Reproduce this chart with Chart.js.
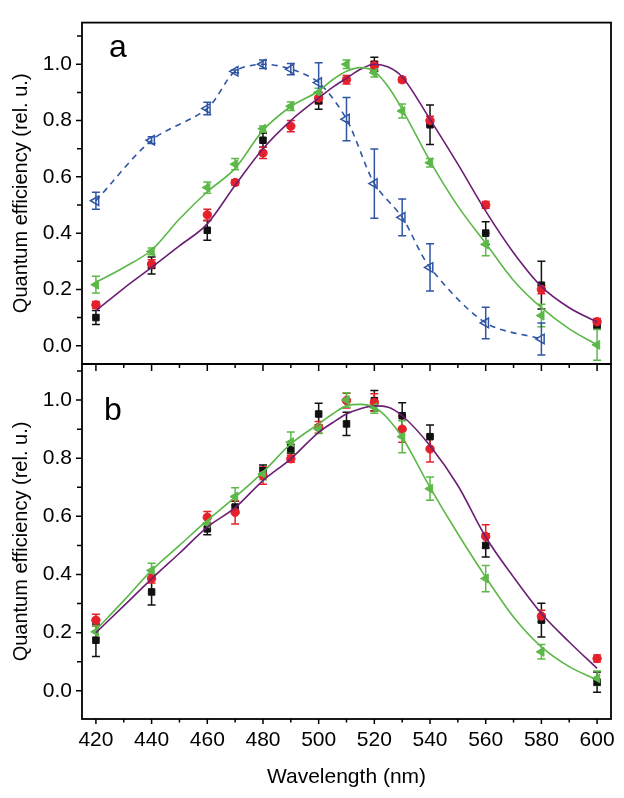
<!DOCTYPE html>
<html><head><meta charset="utf-8">
<script src="https://cdn.jsdelivr.net/npm/chart.js@4"></script>
<style>
html,body{margin:0;padding:0;background:#fff;}
#wrap{position:relative;width:624px;height:798px;background:#fff;}
canvas{position:absolute;left:0;top:0;}
</style></head><body>
<div id="wrap"><canvas id="ca" width="624" height="798"></canvas><canvas id="cb" width="624" height="798"></canvas></div>
<script>
// ---------- data ----------
const wavelengths = [420,440,460,470,480,490,500,510,520,530,540,560,580,600];

// panel a
const aBlack    = [0.100,0.285,0.410,null,0.730,null,0.870,null,1.000,null,0.785,0.400,0.215,0.075];
const aBlackErr = [0.025,0.030,0.035,null,0.025,null,0.030,null,0.025,null,0.070,0.040,0.085,0.012];
const aRed      = [0.145,0.290,0.465,0.580,0.685,0.780,0.880,0.945,0.995,0.945,0.800,0.500,0.200,0.085];
const aRedErr   = [0.012,0.015,0.020,0.010,0.020,0.020,0.020,0.015,0.015,0.010,0.015,0.012,0.015,0.012];
const aGreen    = [0.217,0.335,0.562,0.645,0.771,0.851,0.900,1.000,0.970,0.834,0.650,0.360,0.107,0.003];
const aGreenErr = [0.030,0.012,0.020,0.020,0.010,0.015,0.015,0.015,0.015,0.025,0.015,0.040,0.040,0.055];
const aBlue     = [0.515,0.730,0.843,0.975,1.000,0.983,0.935,0.805,0.576,0.456,0.278,0.081,0.024,null];
const aBlueErr  = [0.030,0.012,0.022,0.005,0.015,0.020,0.070,0.077,0.123,0.065,0.084,0.056,0.057,null];

const fitX       = [420,430,440,450,460,470,480,490,500,505,510,515,520,525,530,540,550,560,570,580,590,600];
const aPurpleFit = [0.124,0.204,0.278,0.355,0.433,0.570,0.700,0.800,0.880,0.918,0.950,0.982,1.000,0.990,0.955,0.804,0.645,0.478,0.330,0.210,0.135,0.084];
const aGreenFit  = [0.225,0.278,0.340,0.450,0.547,0.630,0.765,0.850,0.905,0.945,0.975,0.988,0.975,0.920,0.840,0.656,0.496,0.364,0.232,0.135,0.060,0.003];

// panel b
const bBlack    = [0.174,0.340,0.557,0.632,0.757,0.832,0.952,0.918,0.998,0.946,0.874,0.500,0.243,0.030];
const bBlackErr = [0.056,0.045,0.020,0.020,0.020,0.015,0.037,0.040,0.035,0.045,0.040,0.040,0.058,0.035];
const bRed      = [0.243,0.386,0.597,0.614,0.740,0.798,0.906,0.998,0.992,0.900,0.832,0.531,0.257,0.111];
const bRedErr   = [0.020,0.015,0.020,0.040,0.030,0.012,0.020,0.025,0.030,0.045,0.045,0.040,0.020,0.012];
const bGreen    = [0.203,0.414,0.575,0.668,0.746,0.855,0.900,1.000,0.975,0.874,0.695,0.386,0.134,0.043];
const bGreenErr = [0.020,0.025,0.020,0.030,0.020,0.035,0.015,0.025,0.020,0.055,0.040,0.045,0.025,0.025];

const bPurpleFit = [0.200,0.292,0.385,0.473,0.563,0.630,0.723,0.798,0.889,0.922,0.952,0.970,0.980,0.975,0.946,0.843,0.706,0.529,0.391,0.266,0.168,0.077];
const bGreenFit  = [0.209,0.310,0.414,0.500,0.586,0.666,0.752,0.849,0.918,0.952,0.980,0.985,0.975,0.935,0.872,0.700,0.540,0.391,0.254,0.151,0.083,0.037];

// ticks
const yTickValues = [0,0.2,0.4,0.6,0.8,1.0];
const yTickLabels = ["0.0","0.2","0.4","0.6","0.8","1.0"];
const yMinorValues = [-0.1,0.1,0.3,0.5,0.7,0.9,1.1];
const xTickValues = [420,440,460,480,500,520,540,560,580,600];
const xTickLabels = ["420","440","460","480","500","520","540","560","580","600"];
const xMinorValues = [430,450,470,490,510,530,550,570,590];

// ---------- styling ----------
const FONT = "'Liberation Sans', Arial, Helvetica, sans-serif";
const C_BLACK = '#111111', C_RED = '#e5202a', C_GREEN = '#5cb848', C_PURPLE = '#6b1f74', C_BLUE = '#2f55a4';

function pts(xs, ys){ const o=[]; xs.forEach((x,i)=>{ if(ys[i]!==null && ys[i]!==undefined) o.push({x:x,y:ys[i]}); }); return o; }

function markerSet(ys, errs, style, color, fill, radius, order){
  return {
    data: pts(wavelengths, ys), errs: errs, errColor: color,
    showLine:false, pointStyle: style, pointRotation: style==='triangle'?-90:0,
    pointRadius: radius, pointBorderColor: color, pointBackgroundColor: fill,
    pointBorderWidth: fill==='rgba(0,0,0,0)'?1.5:1, order: order
  };
}
function lineSet(xs, ys, color, dash, order, tension){
  const d = {
    data: pts(xs, ys), showLine:true, borderColor: color, borderWidth:1.6,
    borderDash: dash||[], pointRadius:0, order: order, fill:false
  };
  if (tension) { d.tension = tension; d.cubicInterpolationMode = 'default'; }
  else d.cubicInterpolationMode = 'monotone';
  return d;
}

const errPlugin = {
  id:'errbars',
  beforeDatasetsDraw(chart){
    const {ctx, scales:{x,y}, chartArea:a} = chart;
    ctx.save();
    ctx.beginPath(); ctx.rect(a.left,a.top,a.right-a.left,a.bottom-a.top); ctx.clip();
    ctx.lineWidth = 1.5;
    const sets = chart.data.datasets.filter(d=>d.errs).slice().sort((p,q)=>q.order-p.order);
    sets.forEach(ds=>{
      ctx.strokeStyle = ds.errColor;
      const e = ds.errs.filter(v=>v!==null);
      ds.data.forEach((p,i)=>{
        const px = x.getPixelForValue(p.x);
        const y1 = y.getPixelForValue(p.y + e[i]);
        const y2 = y.getPixelForValue(p.y - e[i]);
        ctx.beginPath();
        ctx.moveTo(px,y1); ctx.lineTo(px,y2);
        ctx.moveTo(px-4,y1); ctx.lineTo(px+4,y1);
        ctx.moveTo(px-4,y2); ctx.lineTo(px+4,y2);
        ctx.stroke();
      });
    });
    ctx.restore();
  }
};

function framePlugin(opts){
  return {
    id:'frame',
    afterDraw(chart){
      const {ctx, chartArea:a, scales:{x,y}} = chart;
      ctx.save();
      ctx.strokeStyle = '#000'; ctx.lineWidth = 1.8;
      ctx.strokeRect(a.left, a.top, a.right-a.left, a.bottom-a.top);
      ctx.lineWidth = 1.5;
      ctx.beginPath();
      yTickValues.forEach(v=>{ const py=y.getPixelForValue(v); ctx.moveTo(a.left,py); ctx.lineTo(a.left-6,py); });
      yMinorValues.forEach(v=>{ const py=y.getPixelForValue(v); if(py>a.top+1 && py<a.bottom-1){ ctx.moveTo(a.left,py); ctx.lineTo(a.left-5,py);} });
      if (opts.topTicks){
        xTickValues.forEach(v=>{ const px=x.getPixelForValue(v); ctx.moveTo(px,a.top); ctx.lineTo(px,a.top+7); });
        xMinorValues.forEach(v=>{ const px=x.getPixelForValue(v); ctx.moveTo(px,a.top); ctx.lineTo(px,a.top+4); });
      }
      if (opts.bottomTicks){
        xTickValues.forEach(v=>{ const px=x.getPixelForValue(v); ctx.moveTo(px,a.bottom); ctx.lineTo(px,a.bottom+5); });
        xMinorValues.forEach(v=>{ const px=x.getPixelForValue(v); ctx.moveTo(px,a.bottom); ctx.lineTo(px,a.bottom+3.5); });
      }
      ctx.stroke();
      ctx.fillStyle = '#000';
      ctx.font = '32px ' + FONT;
      ctx.textBaseline = 'alphabetic'; ctx.textAlign = 'left';
      ctx.fillText(opts.letter, opts.lx, opts.ly);
      ctx.restore();
    }
  };
}

function yScale(min, max){
  return {
    type:'linear', min:min, max:max,
    afterFit(s){ s.width = 82; },
    afterBuildTicks(s){ s.ticks = yTickValues.map(v=>({value:v})); },
    ticks:{ callback:(v,i)=>yTickLabels[i], font:{family:FONT,size:21}, color:'#000', padding:10 },
    grid:{ display:false, drawTicks:false }, border:{ display:false },
    title:{ display:true, text:'Quantum efficiency (rel. u.)', color:'#000', font:{family:FONT,size:20}, padding:{top:9,bottom:0} }
  };
}

Chart.defaults.color = '#000';

new Chart(document.getElementById('ca'), {
  type:'scatter',
  data:{ datasets:[
    markerSet(aBlack, aBlackErr, 'rect', C_BLACK, C_BLACK, 4.6, 6),
    markerSet(aRed, aRedErr, 'circle', C_RED, C_RED, 4.2, 5),
    markerSet(aGreen, aGreenErr, 'triangle', C_GREEN, C_GREEN, 5.2, 4),
    lineSet(wavelengths.slice(0,13), aBlue.slice(0,13), C_BLUE, [6,5], 3, 0.3),
    markerSet(aBlue, aBlueErr, 'triangle', C_BLUE, 'rgba(0,0,0,0)', 5.5, 2),
    lineSet(fitX, aPurpleFit, C_PURPLE, null, 1),
    lineSet(fitX, aGreenFit, C_GREEN, null, 0)
  ]},
  options:{
    responsive:false, animation:false, devicePixelRatio:1,
    layout:{ padding:{ left:0, right:13, top:10, bottom:434 } },
    plugins:{ legend:{display:false}, tooltip:{enabled:false} },
    scales:{
      x:{ type:'linear', min:415, max:605, display:false },
      y: yScale(-0.065, 1.148)
    }
  },
  plugins:[errPlugin, framePlugin({letter:'a', lx:109, ly:57, topTicks:false, bottomTicks:false})]
});

new Chart(document.getElementById('cb'), {
  type:'scatter',
  data:{ datasets:[
    markerSet(bBlack, bBlackErr, 'rect', C_BLACK, C_BLACK, 4.6, 6),
    markerSet(bRed, bRedErr, 'circle', C_RED, C_RED, 4.2, 5),
    markerSet(bGreen, bGreenErr, 'triangle', C_GREEN, C_GREEN, 5.2, 4),
    lineSet(fitX, bPurpleFit, C_PURPLE, null, 1),
    lineSet(fitX, bGreenFit, C_GREEN, null, 0)
  ]},
  options:{
    responsive:false, animation:false, devicePixelRatio:1,
    layout:{ padding:{ left:0, right:13, top:364, bottom:0 } },
    plugins:{ legend:{display:false}, tooltip:{enabled:false} },
    scales:{
      x:{ type:'linear', min:415, max:605,
        afterFit(s){ s.height = 79; },
        afterBuildTicks(s){ s.ticks = xTickValues.map(v=>({value:v})); },
        ticks:{ callback:(v,i)=>xTickLabels[i], font:{family:FONT,size:21}, color:'#000', padding:9, maxRotation:0, autoSkip:false },
        grid:{ display:false, drawTicks:false }, border:{ display:false },
        title:{ display:true, text:'Wavelength (nm)', color:'#000', font:{family:FONT,size:21}, padding:{top:0,bottom:8} }
      },
      y: yScale(-0.097, 1.124)
    }
  },
  plugins:[errPlugin, framePlugin({letter:'b', lx:104, ly:420, topTicks:true, bottomTicks:true})]
});
</script>
</body></html>
